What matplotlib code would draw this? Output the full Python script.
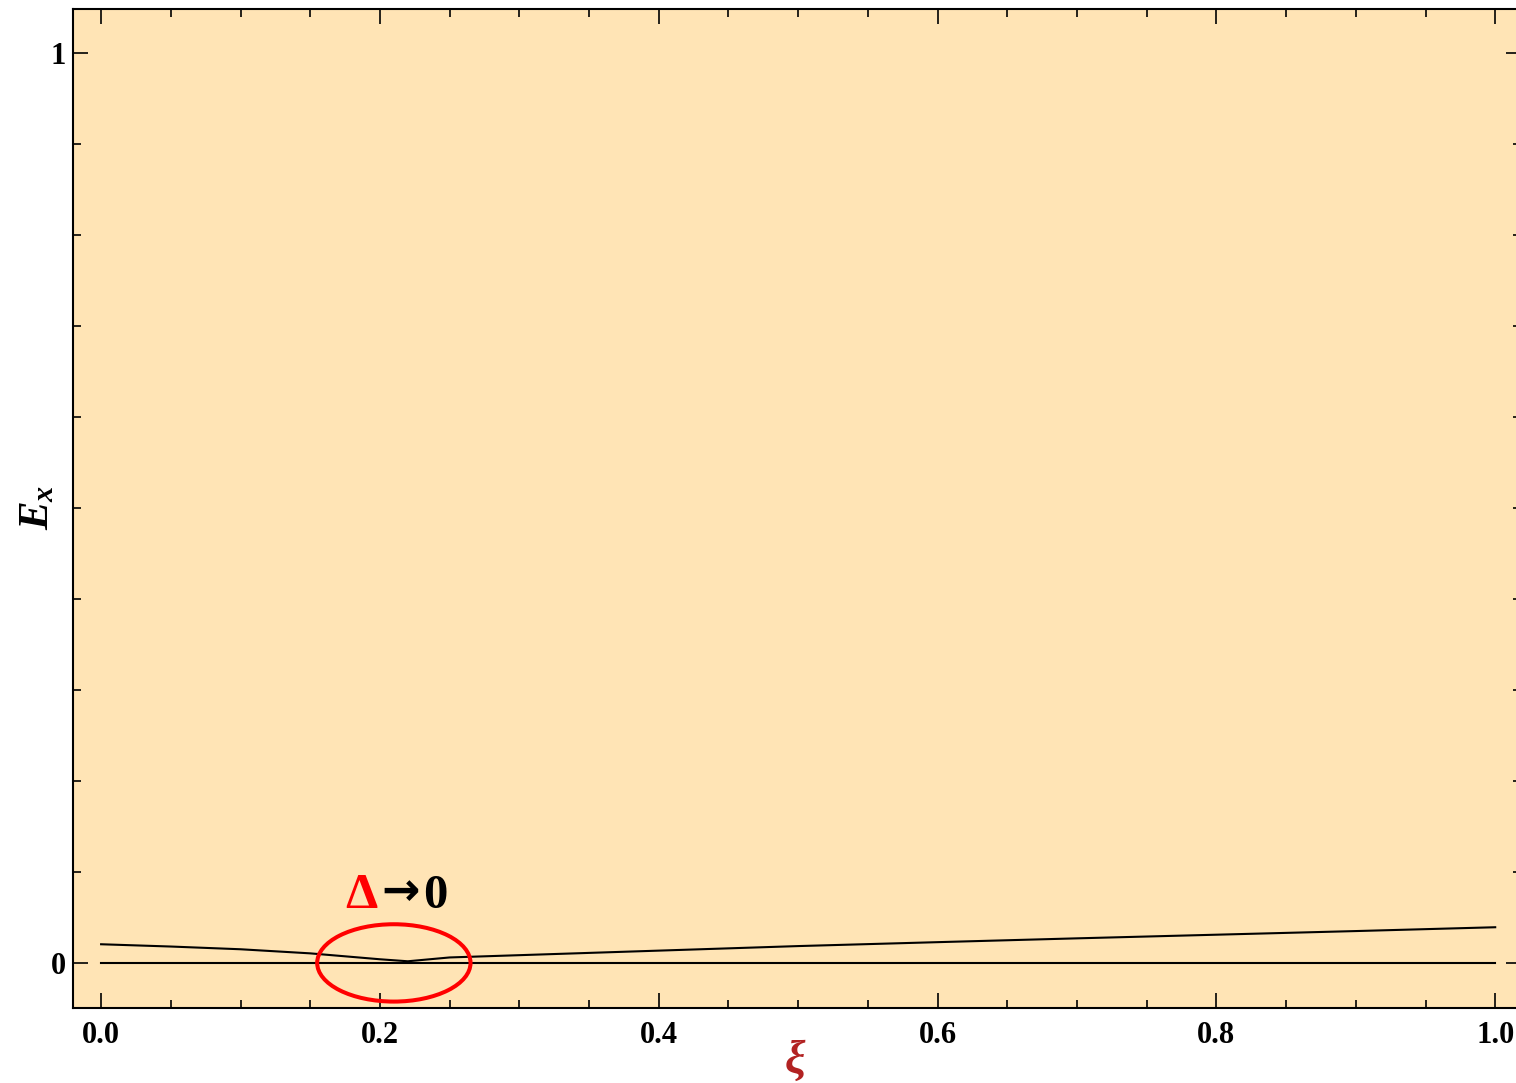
import numpy as np
import matplotlib
matplotlib.use("Agg")
import matplotlib.pyplot as plt
from matplotlib.patches import Ellipse
from matplotlib.ticker import MultipleLocator

# datos
xi = [0.0, 0.05, 0.10, 0.15, 0.20, 0.22, 0.25, 0.30, 0.40, 0.50, 0.60, 0.70, 0.80, 0.90, 1.0]
ex_curve = [0.0205, 0.0180, 0.0150, 0.0105, 0.0040, 0.0018, 0.0060, 0.0085,
            0.0135, 0.0185, 0.0228, 0.0270, 0.0310, 0.0350, 0.0392]
ex_zero = [0.0] * len(xi)

# marca de la región donde el gap se cierra
gap_center = (0.21, 0.0)
gap_size = (0.110, 0.085)

plt.rcParams["font.family"] = ["Liberation Serif", "DejaVu Serif"]
plt.rcParams["mathtext.fontset"] = "custom"
plt.rcParams["mathtext.it"] = "Liberation Serif:italic:bold"
plt.rcParams["mathtext.rm"] = "Liberation Serif:bold"

fig = plt.figure(figsize=(15.16, 10.83), dpi=100)
ax = fig.add_axes([0.0482, 0.0693, 0.9551, 0.9224])
ax.set_facecolor("#FFE4B5")

ax.plot(xi, ex_zero, color="black", lw=1.5)
ax.plot(xi, ex_curve, color="black", lw=1.5)

ell = Ellipse(gap_center, gap_size[0], gap_size[1], fill=False,
              edgecolor="#FF0000", lw=2.9, zorder=5)
ax.add_patch(ell)

# etiqueta "Δ→0"
ax.text(0.1985, 0.0604, "Δ", color="#FF0000", fontsize=37,
        fontweight="bold", ha="right", va="baseline")
ax.text(0.2145, 0.0769, "→", color="black", fontsize=33, family="DejaVu Sans",
        fontweight="bold", ha="center", va="center")
ax.text(0.2310, 0.0604, "0", color="black", fontsize=35,
        fontweight="bold", ha="left", va="baseline")

ax.set_xlim(-0.0201, 1.0185)
ax.set_ylim(-0.0495, 1.0484)

ax.xaxis.set_major_locator(MultipleLocator(0.2))
ax.xaxis.set_minor_locator(MultipleLocator(0.05))
ax.yaxis.set_major_locator(MultipleLocator(1.0))
ax.yaxis.set_minor_locator(MultipleLocator(0.1))
ax.xaxis.set_major_formatter(plt.FuncFormatter(lambda v, p: f"{v:.1f}"))
ax.yaxis.set_major_formatter(plt.FuncFormatter(lambda v, p: f"{v:.0f}"))

ax.tick_params(which="both", direction="in", top=True, right=True, width=1.2)
ax.tick_params(which="major", length=10.5, labelsize=22)
ax.tick_params(axis="x", which="major", pad=9.5)
ax.tick_params(axis="y", which="major", pad=5)
ax.tick_params(which="minor", length=5.5)
for lab in ax.get_xticklabels() + ax.get_yticklabels():
    lab.set_fontweight("bold")
for s in ax.spines.values():
    s.set_linewidth(1.5)

fig.text(0.5245, 0.0195, "ξ", fontsize=33, style="italic", fontweight="bold",
         color="#B22222", ha="center", va="center")
fig.text(0.025, 0.532, r"$E_x$", fontsize=31, rotation=90,
         ha="center", va="center")

fig.savefig("out.png", dpi=100)
